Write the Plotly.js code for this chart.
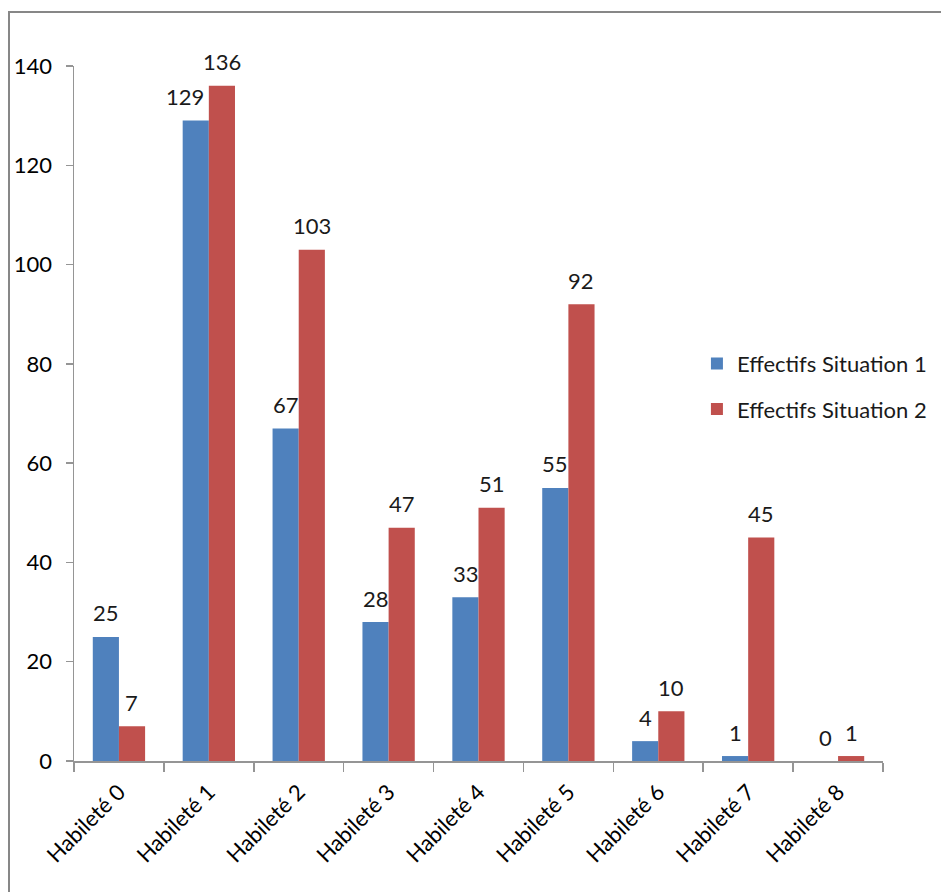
<!DOCTYPE html>
<html>
<head>
<meta charset="utf-8">
<script src="https://cdn.plot.ly/plotly-3.0.1.min.js"></script>
<style>
  html, body { margin: 0; padding: 0; background: #fff; overflow: hidden; }
  #chart { position: absolute; left: 0; top: 0; width: 941px; height: 892px; }
  #frame {
    position: absolute; left: 8px; top: 11px; width: 1000px; height: 1000px;
    border: 2px solid #878787; pointer-events: none; box-sizing: border-box;
  }
</style>
</head>
<body>
<div id="chart"></div>
<div id="frame"></div>
<script>
// Effectifs par niveau d'habileté, pour les deux situations
const categories = ['Habileté 0', 'Habileté 1', 'Habileté 2', 'Habileté 3', 'Habileté 4',
                    'Habileté 5', 'Habileté 6', 'Habileté 7', 'Habileté 8'];
const situation1 = [25, 129, 67, 28, 33, 55, 4, 1, 0];
const situation2 = [7, 136, 103, 47, 51, 92, 10, 45, 1];
const seriesNames = ['Effectifs Situation 1', 'Effectifs Situation 2'];
const yTicks = [0, 20, 40, 60, 80, 100, 120, 140];

const FONT = 'Lato, "Open Sans", sans-serif';
const FS = 22;
const BLUE = '#4F81BD';
const RED = '#C0504D';
const AXIS = '#959595';

const traces = [
  { type: 'bar', name: seriesNames[0], x: categories, y: situation1,
    marker: { color: BLUE }, legendgroup: 'a', hoverinfo: 'x+y' },
  { type: 'bar', name: seriesNames[1], x: categories, y: situation2,
    marker: { color: RED }, legendgroup: 'b', hoverinfo: 'x+y' }
];

// Value labels above each bar; half a bar width left/right of the category centre
const HALF = 13;
const annotations = [];
categories.forEach((c, i) => {
  // the label of the first series at Habileté 1 sits further left, clear of the taller bar
  const extra = (i === 1) ? -11 : 0;
  annotations.push({ x: c, y: situation1[i], text: String(situation1[i]), showarrow: false,
    xshift: -HALF + extra, yshift: 24, yanchor: 'middle',
    font: { family: FONT, size: FS, color: '#1a1a1a' } });
  annotations.push({ x: c, y: situation2[i], text: String(situation2[i]), showarrow: false,
    xshift: HALF, yshift: 24, yanchor: 'middle',
    font: { family: FONT, size: FS, color: '#1a1a1a' } });
});

const layout = {
  width: 941, height: 892,
  margin: { l: 74, r: 58, t: 66, b: 131, pad: 0, autoexpand: false },
  paper_bgcolor: 'rgba(0,0,0,0)',
  plot_bgcolor: 'rgba(0,0,0,0)',
  font: { family: FONT, size: FS, color: '#1a1a1a' },
  barmode: 'group',
  bargap: 0.418,
  bargroupgap: 0,
  showlegend: true,
  legend: {
    x: 0.770, xanchor: 'left', y: 0.602, yanchor: 'top',
    traceorder: 'grouped', tracegroupgap: 14,
    font: { family: FONT, size: FS, color: '#1a1a1a' },
    bgcolor: 'rgba(0,0,0,0)'
  },
  xaxis: {
    type: 'category', range: [-0.5, 8.5],
    tickson: 'boundaries', ticks: 'outside', ticklen: 9, tickcolor: AXIS, tickwidth: 1.5,
    showline: true, linecolor: AXIS, linewidth: 1.5,
    showgrid: false, zeroline: false,
    tickangle: -45,
    ticklabelstandoff: 8,
    tickfont: { family: FONT, size: FS, color: '#000' }
  },
  yaxis: {
    range: [0, 140], tickvals: yTicks, ticktext: yTicks.map(String),
    ticks: 'outside', ticklen: 7, tickcolor: AXIS, tickwidth: 1.5,
    showline: true, linecolor: AXIS, linewidth: 1.5,
    showgrid: false, zeroline: false,
    ticklabelstandoff: 9,
    tickfont: { family: FONT, size: FS, color: '#000' }
  },
  annotations: annotations
};

Plotly.newPlot('chart', traces, layout, { displayModeBar: false, staticPlot: true });
</script>
</body>
</html>
